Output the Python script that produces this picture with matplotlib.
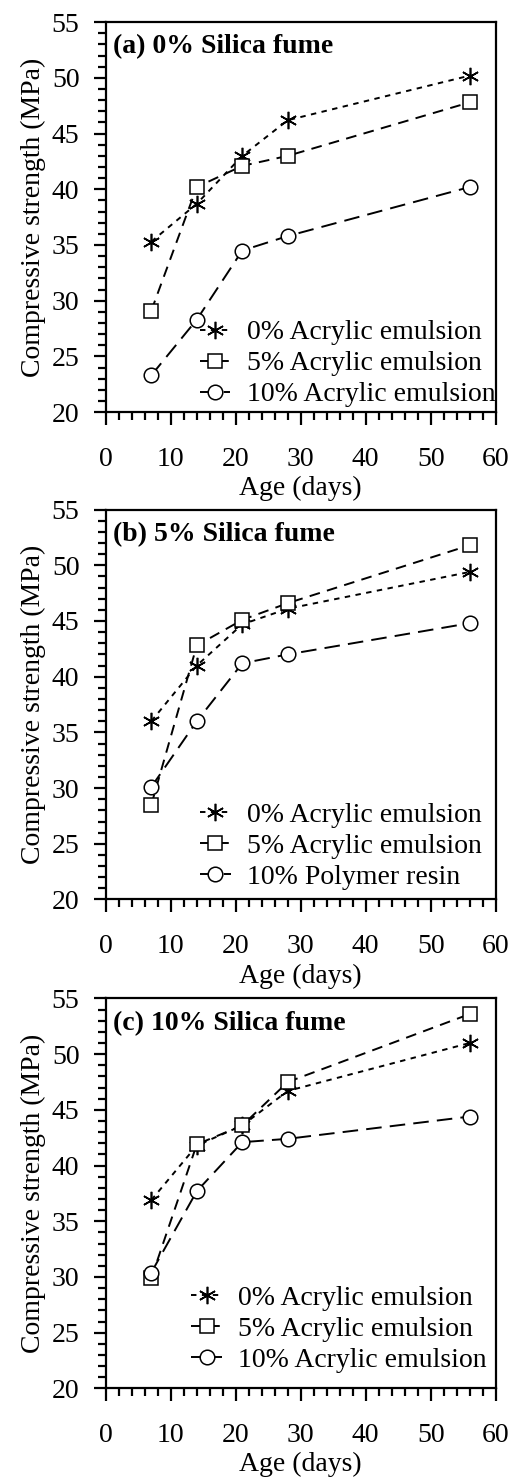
import matplotlib
matplotlib.use("Agg")
import matplotlib.pyplot as plt
from matplotlib.ticker import MultipleLocator

plt.rcParams['font.family'] = ['Liberation Serif', 'DejaVu Serif']

age = [7, 14, 21, 28, 56]

titles = ["(a) 0% Silica fume", "(b) 5% Silica fume", "(c) 10% Silica fume"]

labels_a = ["0% Acrylic emulsion", "5% Acrylic emulsion", "10% Acrylic emulsion"]
labels_b = ["0% Acrylic emulsion", "5% Acrylic emulsion", "10% Polymer resin"]
labels_c = ["0% Acrylic emulsion", "5% Acrylic emulsion", "10% Acrylic emulsion"]

# (a) 0% silica fume
a_0 = [35.3, 38.7, 43.0, 46.2, 50.2]
a_5 = [29.1, 40.2, 42.1, 43.0, 47.8]
a_10 = [23.3, 28.3, 34.5, 35.8, 40.2]
# (b) 5% silica fume
b_0 = [36.0, 41.0, 44.7, 46.1, 49.4]
b_5 = [28.5, 42.8, 45.1, 46.6, 51.8]
b_10 = [30.1, 36.0, 41.2, 42.0, 44.8]
# (c) 10% silica fume
c_0 = [36.9, 41.8, 43.6, 46.7, 51.0]
c_5 = [29.9, 41.9, 43.6, 47.5, 53.6]
c_10 = [30.4, 37.7, 42.1, 42.4, 44.4]

panels = [
    (titles[0], [a_0, a_5, a_10], labels_a, 0.721, (1.0, 0.012)),
    (titles[1], [b_0, b_5, b_10], labels_b, 0.391, (0.965, 0.025)),
    (titles[2], [c_0, c_5, c_10], labels_c, 0.060, (0.978, 0.040)),
]

styles = [
    dict(marker=(6, 2, 0), markersize=12.5, linestyle=(0, (2.8, 2.8)), markeredgewidth=1.2),
    dict(marker='s', markersize=10.5, linestyle=(0, (5.5, 3.8)), markerfacecolor='white', markeredgewidth=1.1),
    dict(marker='o', markersize=10.5, linestyle=(0, (8.0, 4.2)), markerfacecolor='white', markeredgewidth=1.1),
]

fig = plt.figure(figsize=(5.15, 14.77), dpi=100)

for title, series, labs, bottom, lpos in panels:
    ax = fig.add_axes([0.2055, bottom, 0.757, 0.264])
    for ys, lab, st in zip(series, labs, styles):
        ax.plot(age, ys, color='black', linewidth=1.4, label=lab, **st)
    ax.set_xlim(0, 60)
    ax.set_ylim(20, 55)
    ax.xaxis.set_major_locator(MultipleLocator(10))
    ax.xaxis.set_minor_locator(MultipleLocator(2))
    ax.yaxis.set_major_locator(MultipleLocator(5))
    ax.yaxis.set_minor_locator(MultipleLocator(1))
    ax.tick_params(which='major', direction='out', length=9, width=1.6, labelsize=20, colors='black')
    ax.tick_params(which='minor', direction='out', length=5.5, width=1.6)
    ax.tick_params(axis='x', which='major', pad=16)
    ax.tick_params(axis='y', which='major', pad=10)
    for sp in ax.spines.values():
        sp.set_linewidth(1.6)
    ax.set_xlabel("Age (days)", fontsize=20, labelpad=3)
    ax.set_ylabel("Compressive strength (MPa)", fontsize=20, labelpad=4)
    ax.text(0.018, 0.92, title, transform=ax.transAxes, fontsize=20,
            fontweight='bold', va='baseline', ha='left')
    ax.legend(loc='lower right', bbox_to_anchor=lpos, frameon=False, fontsize=20,
              handlelength=1.1, handletextpad=0.6, labelspacing=0.2,
              borderpad=0, borderaxespad=0)

fig.savefig("out.png", dpi=100)
